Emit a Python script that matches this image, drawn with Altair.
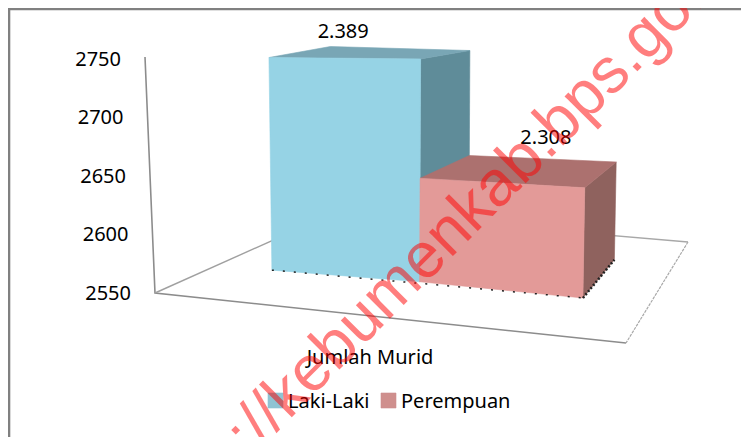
import altair as alt
import numpy as np
import pandas as pd

# ---- data ----
series = ["Laki-Laki", "Perempuan"]
axis_ticks = [2550, 2600, 2650, 2700, 2750]
bar_values = [2746, 2641]          # height read against the value axis
bar_labels = ["2.389", "2.308"]
category = "Jumlah Murid"
watermark = "https://kebumenkab.bps.go.id"

# ---- oblique 3D frame (reference-picture space) ----
FLOOR = {"A": (155, 293), "B": (626, 343), "C": (688, 242), "E": (336, 212)}
V0, V1 = axis_ticks[0], axis_ticks[-1]
SPANS = [(0.113, 0.46), (0.46, 0.8435)]
D0, D1 = 0.38, 0.77
FONT = "Noto Sans"
W, H = 733, 429


def project(u, d, value=V0):
    A, B, C, E = FLOOR["A"], FLOOR["B"], FLOOR["C"], FLOOR["E"]
    lx = A[0] + (E[0] - A[0]) * d
    ly = A[1] + (E[1] - A[1]) * d
    rx = B[0] + (C[0] - B[0]) * d
    ry = B[1] + (C[1] - B[1]) * d
    f = (value - V0) / (V1 - V0)
    near = max(0.46 - u, 0) * max(d - 0.38, 0)
    sag = 9 * max(0.46 - u, 0) if u > 0 else 0
    k = 236 + 39 * u - 70 * d + 40 * near + sag
    tilt = float(np.interp(u, [0, 0.113, 0.46, 0.8435], [-10, -3, 1, 4])) - 30 * near
    return (lx + (rx - lx) * u + f * tilt, ly + (ry - ly) * u + sag - f * k)


xs = alt.Scale(domain=[8, 8 + W], range=[0, W], nice=False, zero=False)
ys = alt.Scale(domain=[8, 8 + H], range=[0, H], nice=False, zero=False)
X = alt.X("x:Q", scale=xs, axis=None)
Y = alt.Y("y:Q", scale=ys, axis=None)


def poly(points, color):
    df = pd.DataFrame([{"x": p[0], "y": p[1], "i": i} for i, p in enumerate(points)])
    return alt.Chart(df).mark_line(
        fill=color, stroke=color, strokeWidth=0.6, interpolate="linear-closed", clip=False
    ).encode(x=X, y=Y, order="i:O")


def path(points, color, width=1.5, dash=None, opacity=1):
    df = pd.DataFrame([{"x": p[0], "y": p[1], "i": i} for i, p in enumerate(points)])
    kw = {"strokeDash": dash} if dash else {}
    return alt.Chart(df).mark_line(color=color, strokeWidth=width, opacity=opacity, **kw).encode(
        x=X, y=Y, order="i:O"
    )


def label(x, y, text, size=20, align="center", color="#000000", angle=None, opacity=1, font=FONT):
    kw = {"angle": angle} if angle is not None else {}
    return alt.Chart(pd.DataFrame([{"x": x, "y": y, "t": text}])).mark_text(
        font=font, fontSize=size, align=align, baseline="middle", color=color, opacity=opacity, **kw
    ).encode(x=X, y=Y, text="t:N")


layers = []

# frame (left and top edges of the embedded picture)
layers.append(path([(8.8, 8 + H), (8.8, 8.8), (8 + W, 8.8)], "#808080", 3))

# floor and value wall edge
A, B, C, E = (FLOOR[k] for k in "ABCE")
top_axis = project(0, 0, V1)
layers.append(path([top_axis, A, B], "#8c8c8c", 1.6))
layers.append(path([A, E], "#a0a0a0", 1.4))
layers.append(path([E, C], "#a8a8a8", 1.3))
layers.append(path([C, B], "#a8a8a8", 1.2, dash=[3, 1]))

# bars
faces = [
    ("#96d3e5", "#5f8c99", "#79a6b5"),
    ("#e39a98", "#8f625e", "#ac716f"),
]
for (u0, u1), v, (front, side, top) in zip(SPANS, bar_values, faces):
    layers.append(poly([project(u1, D0), project(u1, D1), project(u1, D1, v), project(u1, D0, v)], side))
    layers.append(poly([project(u0, D0, v), project(u1, D0, v), project(u1, D1, v), project(u0, D1, v)], top))
    layers.append(poly([project(u0, D0), project(u1, D0), project(u1, D0, v), project(u0, D0, v)], front))

# dotted shadow at the foot of the bars
layers.append(path([project(SPANS[0][0], D0), project(SPANS[1][1], D0)], "#222222", 1.5, dash=[2, 9]))
layers.append(path([project(SPANS[1][1], D0), project(SPANS[1][1], D1)], "#222222", 2.5, dash=[2, 2]))

# value axis labels
for t in axis_ticks:
    x, y = project(0, 0, t)
    layers.append(label(x - 24, y + 0.5 + 2.0 * (t - V0) / (V1 - V0), str(t), align="right"))

# data labels
for (lu, rise), v, txt in zip([(0.145, 15), (0.66, 21)], bar_values, bar_labels):
    x, y = project(lu, D1, v)
    layers.append(label(x, y - rise, txt))

# category
layers.append(label(370, 358, category))

# legend
legend_swatches = [(268, "#8fc3d3"), (381, "#cf8f8d")]
for (sx, col), name in zip(legend_swatches, series):
    layers.append(poly([(sx, 393), (sx + 15, 393), (sx + 15, 408), (sx, 408)], col))
    layers.append(label(sx + 20, 402, name, align="left"))

# watermark
layers.append(label(435, 247, watermark, size=64, align="center", color="#ff0000",
                    angle=315, opacity=0.5, font="Liberation Sans"))

chart = alt.layer(*layers).properties(
    width=W, height=H, padding=0, autosize=alt.AutoSizeParams(type="none")
).configure_view(stroke=None)

chart.save("out.html", embed_options={"renderer": "svg", "actions": False})
